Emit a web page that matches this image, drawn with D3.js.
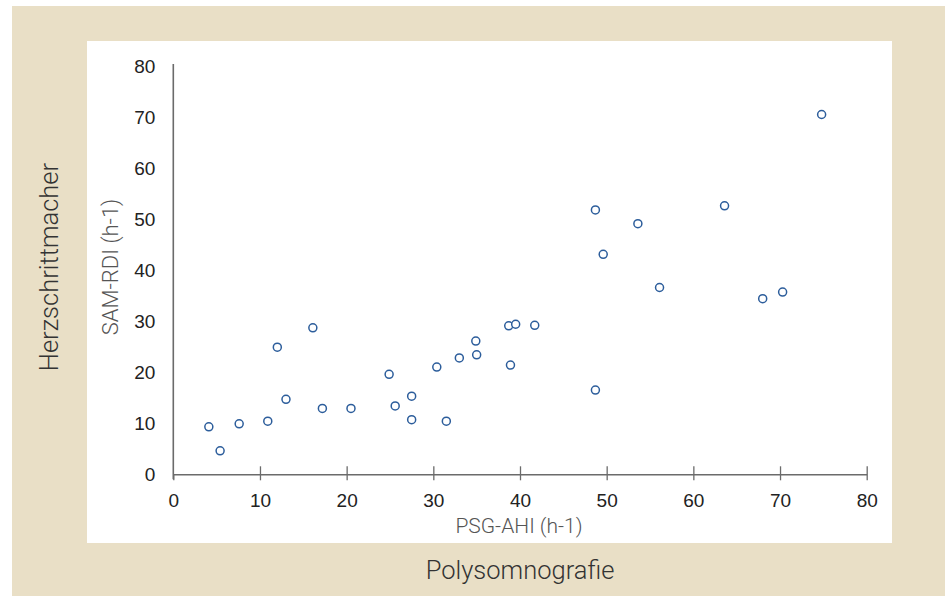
<!DOCTYPE html>
<html>
<head>
<meta charset="utf-8">
<script src="https://cdn.jsdelivr.net/npm/d3@7"></script>
<style>
  body { margin: 0; background: #fff; }
  svg { display: block; font-family: Roboto, "Liberation Sans", sans-serif; }
</style>
</head>
<body>
<div id="chart"></div>
<script>
var W = 945, H = 596;

// PSG-AHI (x) vs SAM-RDI (y)
var psgAhi = [4.1, 5.4, 7.6, 10.9, 12.0, 13.0, 16.1, 17.2, 20.5, 24.9, 25.6, 27.5, 27.5,
              30.4, 31.5, 33.0, 34.9, 35.0, 38.7, 39.5, 38.9, 41.7, 48.7, 48.7, 49.6,
              53.6, 56.1, 63.6, 68.0, 70.3, 74.8];
var samRdi = [9.3, 4.6, 9.9, 10.4, 24.9, 14.7, 28.7, 12.9, 12.9, 19.6, 13.4, 15.3, 10.7,
              21.0, 10.4, 22.8, 26.1, 23.4, 29.1, 29.4, 21.4, 29.2, 16.5, 51.8, 43.1,
              49.1, 36.6, 52.6, 34.4, 35.7, 70.5];
var xTicks = [0, 10, 20, 30, 40, 50, 60, 70, 80];
var yTicks = [0, 10, 20, 30, 40, 50, 60, 70, 80];

var margin = {top: 66, right: 78.3, bottom: 121.7, left: 173.3};

var svg = d3.select("#chart").append("svg")
    .attr("width", W)
    .attr("height", H);

// beige frame and white plot card
svg.append("rect")
    .attr("x", 12).attr("y", 6)
    .attr("width", W - 12).attr("height", H - 6)
    .attr("fill", "#e9dfc6");
svg.append("rect")
    .attr("x", 87).attr("y", 41)
    .attr("width", 892 - 87).attr("height", 543 - 41)
    .attr("fill", "#fff");

var x = d3.scaleLinear()
    .domain([0, 80])
    .range([margin.left, W - margin.right]);
var y = d3.scaleLinear()
    .domain([0, 80])
    .range([H - margin.bottom, margin.top]);

var axisColor = "#6b6b6b";

// X axis (ticks cross the line)
var gx = svg.append("g")
    .attr("transform", "translate(0," + y(0) + ")")
    .call(d3.axisBottom(x).tickValues(xTicks).tickSize(6).tickSizeOuter(0).tickPadding(13));
gx.select(".domain").attr("stroke", axisColor).attr("stroke-width", 1.6);
gx.selectAll(".tick line")
    .attr("stroke", axisColor).attr("stroke-width", 1.3)
    .attr("y1", function(d) { return d === 0 ? 0 : -8; })
    .attr("y2", 6);
gx.selectAll(".tick text")
    .attr("fill", "#222")
    .style("font-size", "19px");

// Y axis (no tick marks)
var gy = svg.append("g")
    .attr("transform", "translate(" + x(0) + ",0)")
    .call(d3.axisLeft(y).tickValues(yTicks).tickSize(0).tickPadding(18));
gy.select(".domain")
    .attr("stroke", axisColor).attr("stroke-width", 1.6)
    .attr("d", "M0," + (y(0) + 5) + "V" + (y(80) - 2));
gy.selectAll(".tick text")
    .attr("fill", "#222")
    .style("font-size", "19px");

// points
svg.append("g")
    .selectAll("circle")
    .data(psgAhi.map(function(d, i) { return [d, samRdi[i]]; }))
    .join("circle")
    .attr("cx", function(d) { return x(d[0]); })
    .attr("cy", function(d) { return y(d[1]); })
    .attr("r", 4)
    .attr("fill", "#fff")
    .attr("stroke", "#2c5d9b")
    .attr("stroke-width", 1.5);

// axis titles
svg.append("text")
    .attr("x", 519).attr("y", 533)
    .attr("text-anchor", "middle")
    .attr("fill", "#555")
    .style("font-size", "21px")
    .style("font-weight", 300)
    .text("PSG-AHI (h-1)");

svg.append("text")
    .attr("transform", "translate(118,267) rotate(-90)")
    .attr("text-anchor", "middle")
    .attr("fill", "#555")
    .style("font-size", "22px")
    .style("font-weight", 300)
    .text("SAM-RDI (h-1)");

svg.append("text")
    .attr("x", 520).attr("y", 579)
    .attr("text-anchor", "middle")
    .attr("fill", "#333")
    .style("font-size", "25.5px")
    .style("font-weight", 300)
    .text("Polysomnografie");

svg.append("text")
    .attr("transform", "translate(58,267) rotate(-90)")
    .attr("text-anchor", "middle")
    .attr("fill", "#333")
    .style("font-size", "25.5px")
    .style("font-weight", 300)
    .text("Herzschrittmacher");
</script>
</body>
</html>
